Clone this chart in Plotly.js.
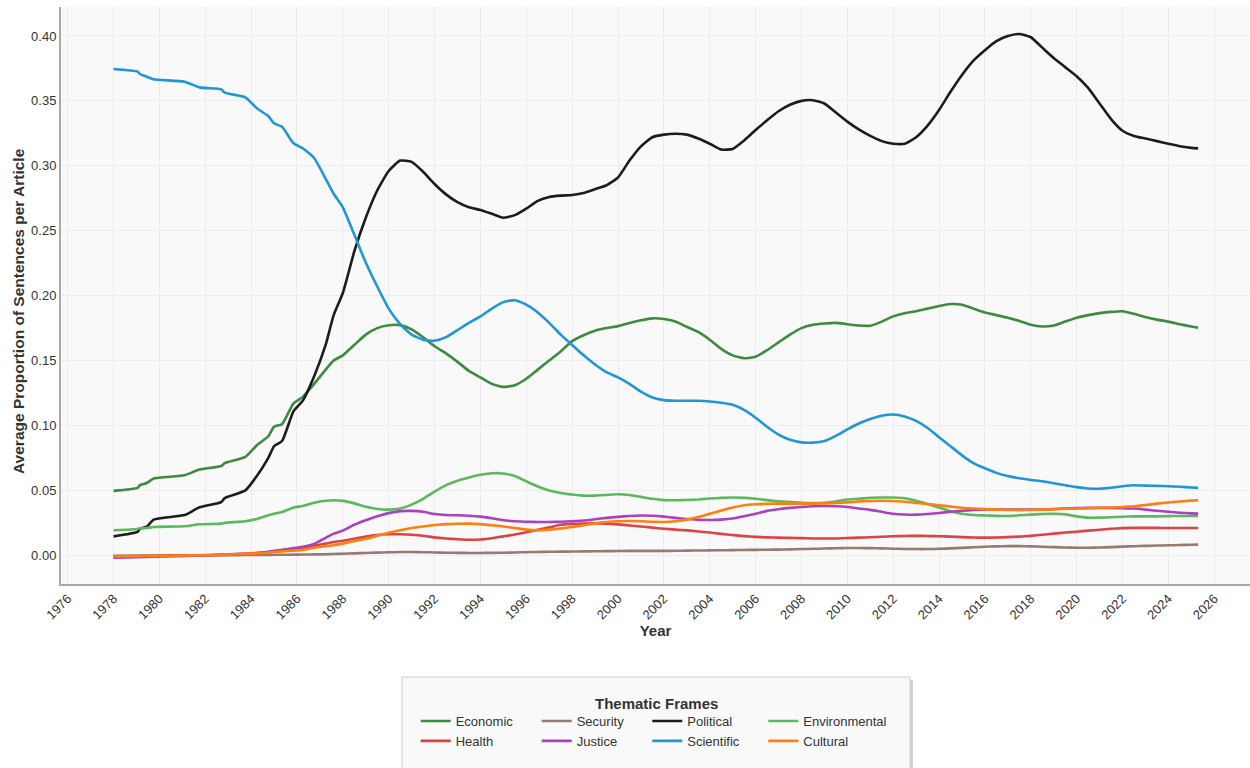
<!DOCTYPE html>
<html>
<head>
<meta charset="utf-8">
<script src="https://cdn.plot.ly/plotly-3.0.1.min.js"></script>
<style>html,body{margin:0;padding:0;background:#fff;}#chart{width:1250px;height:768px;}</style>
</head>
<body>
<div id="chart"></div>
<script>
// Years (fractional) at which each frame's smoothed share was read
const years = [
  1978.0, 1979.05, 1979.15, 1979.45, 1979.75, 1981.1, 1981.75, 1982.7, 1982.85, 1983.75,
  1984.25, 1984.75, 1985.0, 1985.35, 1985.85, 1986.25, 1986.75, 1987.25, 1987.6,
  1988.0, 1988.5, 1989.0, 1989.5, 1990.0, 1990.5, 1991.0, 1991.5, 1992.0, 1992.5,
  1993.0, 1993.5, 1994.0, 1994.5, 1995.0, 1995.5, 1996.0, 1996.5, 1997.0, 1997.5,
  1998.0, 1998.5, 1999.0, 1999.5, 2000.0, 2000.5, 2001.0, 2001.5, 2002.0, 2002.5,
  2003.0, 2003.5, 2004.0, 2004.5, 2005.0, 2005.5, 2006.0, 2006.5, 2007.0, 2007.5,
  2008.0, 2008.5, 2009.0, 2009.5, 2010.0, 2010.5, 2011.0, 2011.5, 2012.0, 2012.5,
  2013.0, 2013.5, 2014.0, 2014.5, 2015.0, 2015.5, 2016.0, 2016.5, 2017.0, 2017.5,
  2018.0, 2018.5, 2019.0, 2019.5, 2020.0, 2020.5, 2021.0, 2021.5, 2022.0, 2022.5,
  2023.0, 2023.5, 2024.0, 2024.5, 2025.0, 2025.3
];

const economic = [
  0.0496, 0.0519, 0.054, 0.0557, 0.0591, 0.0617, 0.066, 0.0688, 0.071, 0.0758,
  0.0848, 0.0917, 0.099, 0.101, 0.117, 0.122, 0.132, 0.143, 0.150,
  0.154, 0.162, 0.170, 0.175, 0.1772, 0.1773, 0.174, 0.168, 0.161, 0.1555,
  0.149, 0.142, 0.137, 0.132, 0.1297, 0.131, 0.136, 0.143, 0.150, 0.157,
  0.165, 0.1695, 0.173, 0.175, 0.1765, 0.179, 0.181, 0.1825, 0.182, 0.180,
  0.176, 0.172, 0.166, 0.159, 0.154, 0.1518, 0.153, 0.158, 0.164, 0.170,
  0.175, 0.1775, 0.1785, 0.179, 0.178, 0.177, 0.1768, 0.180, 0.184, 0.1865,
  0.188, 0.190, 0.192, 0.1935, 0.193, 0.190, 0.187, 0.185, 0.183, 0.1805,
  0.1775, 0.1762, 0.177, 0.180, 0.183, 0.185, 0.1865, 0.1875, 0.188, 0.186,
  0.1835, 0.1815, 0.180, 0.178, 0.1762, 0.1752
];

const security = [
  -0.0003, -0.0002, -0.0002, -0.0002, -0.0001, 0.0, 0.0, 0.0001, 0.0001, 0.0002,
  0.0003, 0.0003, 0.0004, 0.0004, 0.0005, 0.0006, 0.0007, 0.0008, 0.001,
  0.0012, 0.0015, 0.0018, 0.0021, 0.0023, 0.0025, 0.0025, 0.0024, 0.0022, 0.002,
  0.0019, 0.0018, 0.0018, 0.0019, 0.002, 0.0022, 0.0024, 0.0026, 0.0027, 0.0028,
  0.0029, 0.003, 0.0031, 0.0032, 0.0033, 0.0034, 0.0034, 0.0034, 0.0034, 0.0035,
  0.0036, 0.0037, 0.0038, 0.0039, 0.004, 0.0041, 0.0042, 0.0043, 0.0044, 0.0046,
  0.0048, 0.005, 0.0052, 0.0054, 0.0056, 0.0056, 0.0055, 0.0053, 0.0051, 0.0049,
  0.0048, 0.0048, 0.005, 0.0053, 0.0057, 0.0062, 0.0066, 0.0069, 0.0071, 0.0071,
  0.0069, 0.0066, 0.0063, 0.006, 0.0058, 0.0058, 0.006, 0.0063, 0.0067, 0.007,
  0.0073, 0.0075, 0.0077, 0.0079, 0.0081, 0.0082
];

const political = [
  0.0146, 0.018, 0.0205, 0.022, 0.0275, 0.031, 0.037, 0.041, 0.044, 0.050,
  0.061, 0.075, 0.084, 0.088, 0.111, 0.119, 0.138, 0.162, 0.185,
  0.202, 0.234, 0.260, 0.281, 0.296, 0.304, 0.303, 0.2954, 0.286, 0.278,
  0.272, 0.268, 0.266, 0.263, 0.260, 0.262, 0.267, 0.273, 0.276, 0.277,
  0.2775, 0.279, 0.282, 0.285, 0.291, 0.304, 0.315, 0.322, 0.324, 0.3247,
  0.324, 0.321, 0.317, 0.3125, 0.313, 0.3195, 0.3275, 0.335, 0.342, 0.347,
  0.350, 0.3505, 0.348, 0.341, 0.334, 0.328, 0.323, 0.319, 0.317, 0.317,
  0.322, 0.331, 0.343, 0.357, 0.370, 0.381, 0.389, 0.396, 0.400, 0.4015,
  0.399, 0.391, 0.383, 0.376, 0.369, 0.360, 0.348, 0.336, 0.327, 0.323,
  0.321, 0.319, 0.317, 0.315, 0.3138, 0.3134
];

const environmental = [
  0.0193, 0.0203, 0.0208, 0.021, 0.0218, 0.0224, 0.0239, 0.0244, 0.025, 0.0262,
  0.028, 0.0308, 0.032, 0.0334, 0.0368, 0.038, 0.0405, 0.042, 0.0424,
  0.0419, 0.040, 0.0374, 0.0357, 0.0352, 0.036, 0.039, 0.0435, 0.049, 0.054,
  0.0575, 0.060, 0.062, 0.0632, 0.063, 0.061, 0.057, 0.053, 0.050, 0.048,
  0.0468, 0.046, 0.046, 0.0465, 0.047, 0.0465, 0.045, 0.0435, 0.0425, 0.0424,
  0.0426, 0.043, 0.0437, 0.0442, 0.0445, 0.0442, 0.0435, 0.0425, 0.0415, 0.041,
  0.0405, 0.0402, 0.0405, 0.0415, 0.043, 0.0435, 0.0443, 0.0445, 0.0445, 0.044,
  0.042, 0.0395, 0.0368, 0.034, 0.032, 0.031, 0.0307, 0.0304, 0.0303, 0.0308,
  0.0313, 0.0318, 0.032, 0.0315, 0.030, 0.029, 0.029, 0.0293, 0.0297, 0.030,
  0.030, 0.030, 0.0302, 0.0303, 0.0303, 0.0303
];

const health = [
  -0.0008, -0.0007, -0.0007, -0.0006, -0.0005, -0.0003, -0.0001, 0.0002, 0.0003, 0.0011,
  0.0017, 0.0025, 0.003, 0.0035, 0.0045, 0.0055, 0.0075, 0.009, 0.0103,
  0.0112, 0.0128, 0.0145, 0.0157, 0.0162, 0.0162, 0.0158, 0.015, 0.0138, 0.013,
  0.0124, 0.012, 0.0122, 0.0132, 0.0146, 0.016, 0.0178, 0.0196, 0.0215, 0.0235,
  0.0242, 0.0245, 0.0246, 0.0244, 0.0238, 0.023, 0.0222, 0.0213, 0.0205, 0.0198,
  0.0192, 0.0184, 0.0175, 0.0165, 0.0156, 0.0148, 0.0142, 0.0138, 0.0136, 0.0134,
  0.0132, 0.013, 0.0129, 0.013, 0.0133, 0.0136, 0.0139, 0.0143, 0.0147, 0.0149,
  0.015, 0.0149, 0.0147, 0.0144, 0.014, 0.0137, 0.0136, 0.0137, 0.014, 0.0144,
  0.015, 0.0158, 0.0167, 0.0175, 0.0182, 0.019, 0.0197, 0.0204, 0.0209, 0.0211,
  0.0211, 0.0211, 0.021, 0.021, 0.021, 0.021
];

const justice = [
  -0.0018, -0.0015, -0.0014, -0.0012, -0.001, -0.0005, 0.0, 0.0005, 0.0006, 0.0012,
  0.0018, 0.0028, 0.0035, 0.0042, 0.0055, 0.0066, 0.0088, 0.0135, 0.0167,
  0.019, 0.0235, 0.027, 0.030, 0.0325, 0.034, 0.0342, 0.0335, 0.0318, 0.031,
  0.0308, 0.0305, 0.0298, 0.0285, 0.027, 0.0262, 0.0258, 0.0257, 0.0257, 0.0258,
  0.0262, 0.0268, 0.0278, 0.0288, 0.0296, 0.0303, 0.0307, 0.0305, 0.0298, 0.0288,
  0.028, 0.0273, 0.0272, 0.0275, 0.0283, 0.030, 0.032, 0.0342, 0.0355, 0.0365,
  0.0372, 0.0378, 0.038, 0.0378, 0.0372, 0.036, 0.035, 0.0335, 0.032, 0.0314,
  0.0313, 0.0318, 0.0326, 0.0335, 0.0343, 0.0349, 0.0352, 0.0353, 0.0353, 0.0352,
  0.0352, 0.0353, 0.0356, 0.036, 0.0363, 0.0365, 0.0366, 0.0365, 0.0362, 0.036,
  0.0352, 0.0343, 0.0335, 0.0328, 0.0323, 0.0321
];

const scientific = [
  0.3745, 0.3725, 0.3707, 0.3686, 0.3666, 0.3648, 0.3604, 0.3589, 0.3563, 0.3527,
  0.3443, 0.3383, 0.3327, 0.330, 0.3173, 0.3135, 0.306, 0.290, 0.2785,
  0.268, 0.247, 0.2255, 0.207, 0.190, 0.178, 0.170, 0.166, 0.1652, 0.168,
  0.1735, 0.179, 0.184, 0.190, 0.195, 0.1965, 0.193, 0.187, 0.179, 0.170,
  0.162, 0.154, 0.147, 0.141, 0.137, 0.132, 0.126, 0.1215, 0.1195, 0.119,
  0.119, 0.119, 0.1185, 0.1175, 0.116, 0.112, 0.106, 0.099, 0.093, 0.089,
  0.087, 0.0868, 0.088, 0.092, 0.097, 0.1015, 0.105, 0.1075, 0.1084, 0.107,
  0.1035, 0.098, 0.091, 0.084, 0.077, 0.071, 0.067, 0.0635, 0.061, 0.0593,
  0.058, 0.057, 0.0555, 0.054, 0.0525, 0.0515, 0.0513, 0.052, 0.0532, 0.054,
  0.0537, 0.0535, 0.0532, 0.0528, 0.0522, 0.0519
];

const cultural = [
  -0.0008, -0.0006, -0.0006, -0.0005, -0.0004, -0.0002, 0.0, 0.0004, 0.0005, 0.0011,
  0.0015, 0.0022, 0.0026, 0.003, 0.0036, 0.0042, 0.0058, 0.007, 0.0078,
  0.009, 0.011, 0.0127, 0.015, 0.0173, 0.0193, 0.021, 0.0222, 0.0233, 0.024,
  0.0243, 0.0244, 0.024, 0.0232, 0.0222, 0.021, 0.0198, 0.0193, 0.0198, 0.0207,
  0.0218, 0.0232, 0.0246, 0.0256, 0.0262, 0.0264, 0.0262, 0.0258, 0.0257, 0.0262,
  0.0275, 0.0295, 0.032, 0.0345, 0.0368, 0.0385, 0.0393, 0.0397, 0.0398, 0.0398,
  0.0398, 0.0398, 0.040, 0.0403, 0.0408, 0.0414, 0.0418, 0.042, 0.0418, 0.0412,
  0.0404, 0.0395, 0.0386, 0.0375, 0.0366, 0.036, 0.0356, 0.0352, 0.035, 0.0348,
  0.0349, 0.0352, 0.0355, 0.0358, 0.036, 0.0362, 0.0365, 0.0368, 0.0372, 0.0378,
  0.0387, 0.0398, 0.0407, 0.0415, 0.0421, 0.0424
];

const frameNames = ['Economic', 'Security', 'Political', 'Environmental', 'Health', 'Justice', 'Scientific', 'Cultural'];
const frameValues = [economic, security, political, environmental, health, justice, scientific, cultural];
const frameColors = ['#3d8b40', '#977a70', '#1c1c1c', '#5cb85c', '#db4344', '#a943bd', '#1f96d8', '#ff7f0e'];
const frameLegend = ['legend', 'legend2', 'legend3', 'legend4', 'legend', 'legend2', 'legend3', 'legend4'];
const xTicks = [1976, 1978, 1980, 1982, 1984, 1986, 1988, 1990, 1992, 1994, 1996, 1998, 2000, 2002, 2004, 2006, 2008, 2010, 2012, 2014, 2016, 2018, 2020, 2022, 2024, 2026];
const yTicks = [0.00, 0.05, 0.10, 0.15, 0.20, 0.25, 0.30, 0.35, 0.40];

const FONT = 'Liberation Sans, Arial, Helvetica, sans-serif';

const traces = frameNames.map((name, i) => ({
  x: years,
  y: frameValues[i],
  name: name,
  type: 'scatter',
  mode: 'lines',
  line: { color: frameColors[i], width: 2.6, shape: 'spline', smoothing: 0.5 },
  legend: frameLegend[i],
  hoverinfo: 'x+y+name'
}));

const W = 1250, H = 768;
const mL = 61, mR = 0, mT = 7, mB = 184;
const pw = W - mL - mR, ph = H - mT - mB;
const px = v => (v - mL) / pw;            // pixel -> paper x
const py = v => (H - mB - v) / ph;        // pixel -> paper y

function legendAt(xpix) {
  return {
    x: px(xpix), xanchor: 'left',
    y: py(706), yanchor: 'top',
    orientation: 'v',
    bgcolor: 'rgba(0,0,0,0)',
    borderwidth: 0,
    traceorder: 'normal',
    font: { family: FONT, size: 13, color: '#333333' },
    tracegroupgap: 0
  };
}

const layout = {
  width: W, height: H,
  margin: { l: mL, r: mR, t: mT, b: mB, autoexpand: false },
  paper_bgcolor: '#ffffff',
  plot_bgcolor: '#f9f9f9',
  font: { family: FONT, size: 13, color: '#333333' },
  showlegend: true,
  xaxis: {
    range: [1975.71, 2027.56],
    tickvals: xTicks,
    ticktext: xTicks.map(String),
    tickangle: -45,
    tickfont: { family: FONT, size: 13, color: '#333333' },
    showgrid: true, gridcolor: '#ececec', gridwidth: 1,
    zeroline: false,
    showline: true, linecolor: '#a9a9a9', linewidth: 2,
    ticks: '',
    title: { text: 'Year', font: { family: FONT, size: 15, color: '#333333', weight: 'bold' }, standoff: 1 }
  },
  yaxis: {
    range: [-0.0221, 0.4223],
    tickvals: yTicks,
    ticktext: yTicks.map(v => v.toFixed(2)),
    tickfont: { family: FONT, size: 13, color: '#333333' },
    showgrid: true, gridcolor: '#ececec', gridwidth: 1,
    zeroline: false,
    showline: true, linecolor: '#a9a9a9', linewidth: 2,
    ticks: ''
  },
  legend: legendAt(415.7),
  legend2: legendAt(536.7),
  legend3: legendAt(647.3),
  legend4: legendAt(763.3),
  shapes: [
    { type: 'rect', xref: 'paper', yref: 'paper', layer: 'above',
      x0: px(405), x1: px(913), y0: py(680), y1: py(790),
      fillcolor: 'rgba(0,0,0,0.18)', line: { width: 0 } },
    { type: 'rect', xref: 'paper', yref: 'paper', layer: 'above',
      x0: px(402), x1: px(910), y0: py(677), y1: py(790),
      fillcolor: '#f9f9f9', line: { color: '#cfcfcf', width: 1 } }
  ],
  annotations: [
    { text: 'Average Proportion of Sentences per Article', xref: 'paper', yref: 'paper',
      x: px(18), y: py(311), xanchor: 'center', yanchor: 'middle', textangle: -90,
      showarrow: false, font: { family: FONT, size: 15.5, color: '#333333', weight: 'bold' } },
    { text: 'Thematic Frames', xref: 'paper', yref: 'paper', x: px(656), y: py(703), xanchor: 'center', yanchor: 'middle',
      showarrow: false, font: { family: FONT, size: 15, color: '#333333', weight: 'bold' } }
  ]
};

Plotly.newPlot('chart', traces, layout, { displayModeBar: false, responsive: false });
</script>
</body>
</html>
